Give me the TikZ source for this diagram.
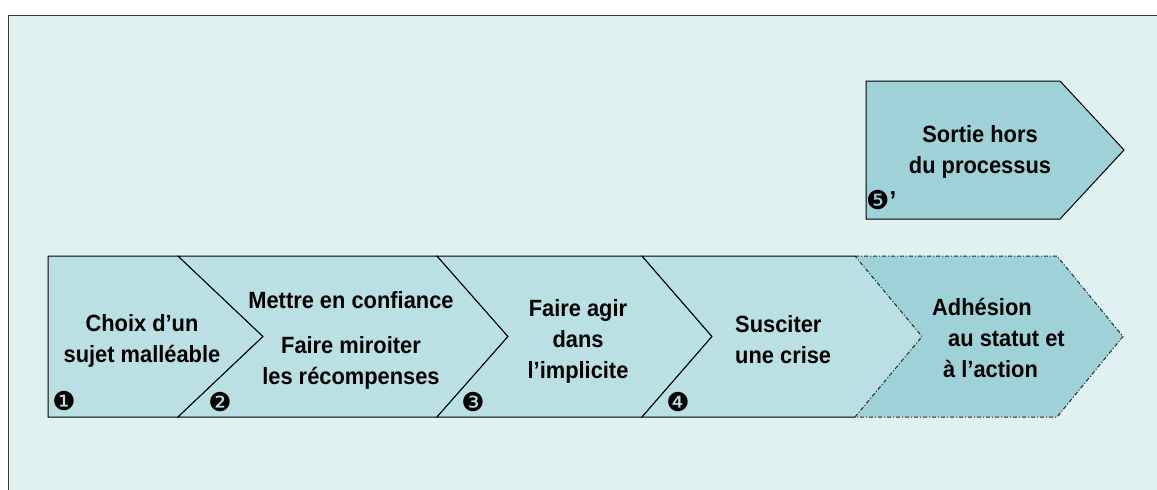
\documentclass[tikz,border=0pt]{standalone}
\usepackage{fontspec}
\setmainfont{Liberation Sans}
\newfontfamily\stagefont[FakeStretch=0.93]{Liberation Sans}
\newfontfamily\dingfont{DejaVu Sans}
\usetikzlibrary{positioning}
\definecolor{bgcyan}{HTML}{E0F1F1}
\definecolor{stagelight}{HTML}{BAE0E3}
\definecolor{stagedeep}{HTML}{9ED2D7}
\definecolor{framegray}{HTML}{3A3A3A}
\tikzset{stage/.style={fill=stagelight,draw=black,line width=1pt},
         stagedark/.style={fill=stagedeep,draw=black,line width=1pt},
         dashstage/.style={fill=stagedeep,draw=black!85,line width=1pt,dash pattern=on 4pt off 2pt on 1pt off 2pt},
         label/.style={font=\stagefont\fontsize{23.5}{31}\selectfont\bfseries,inner sep=0pt,align=center,anchor=base},
         num/.style={font=\dingfont\fontsize{26}{26}\selectfont,inner sep=0pt}
}

\begin{document}
\begin{tikzpicture}[x=1pt,y=-1pt]

\useasboundingbox (0,0) rectangle (1157,490);
\fill[bgcyan] (8.5,15.5) rectangle (1157,490);
\draw[framegray,line width=1pt] (8.5,490)--(8.5,15.5)--(1157,15.5);

% stages of the process
\draw[stage] (48,256)--(178,256)--(263,336.5)--(178,417)--(48,417)--cycle;
\draw[stage] (178,256)--(437,256)--(508,336.5)--(437,417)--(178,417)--(263,336.5)--cycle;
\draw[stage] (437,256)--(642,256)--(712,336.5)--(642,417)--(437,417)--(508,336.5)--cycle;
\fill[stagelight] (642,256)--(855,256)--(922,336.5)--(855,417)--(642,417)--(712,336.5)--cycle;
\draw[line width=1pt] (855,256)--(642,256)--(712,336.5)--(642,417)--(855,417);
\draw[dashstage] (855,256)--(1057,256)--(1123,336.5)--(1057,417)--(855,417)--(922,336.5)--cycle;
\draw[stagedark] (866,81)--(1060,81)--(1124,150)--(1060,219)--(866,219)--cycle;

\node[label] (choix) at (142,362) {Choix d’un\\sujet malléable};
\node[label] (confiance) at (351,384) {Mettre en confiance\\[14pt]Faire miroiter\\les récompenses};
\node[label] (agir) at (578,378) {Faire agir\\dans\\l’implicite};
\node[label,anchor=base west,align=left] (crise) at (735,363) {Susciter\\une crise};
\node[label,anchor=base west,align=left] (adhesion) at (932,377) {Adhésion\\\hspace*{16pt}au statut et\\\hspace*{11pt}à l’action};
\node[label] (sortie) at (980,173) {Sortie hors\\du processus};

\node[num] (n1) at (64,401) {❶};
\node[num] (n2) at (220,402) {❷};
\node[num] (n3) at (473,402) {❸};
\node[num] (n4) at (678,402) {❹};
\node[num,anchor=west] (n5) at (866,200) {❺{\stagefont\bfseries\fontsize{26}{26}\selectfont ’}};

\end{tikzpicture}
\end{document}
